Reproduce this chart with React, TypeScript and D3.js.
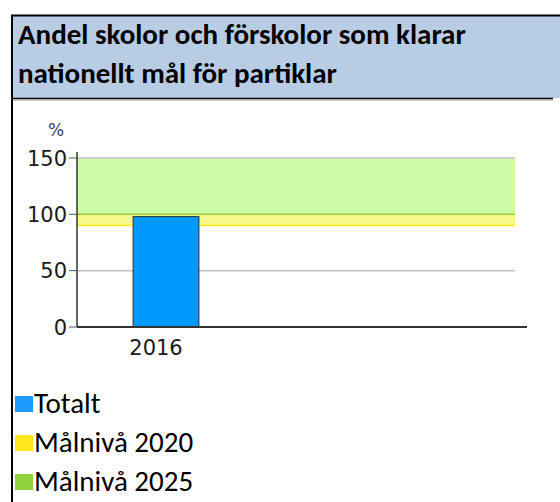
import React from 'react';
import * as d3 from 'd3';

const titleLines = ['Andel skolor och förskolor som klarar', 'nationellt mål för partiklar'];
const categories = ['2016'];
const totalt = [98];
const yTicks = [0, 50, 100, 150];
const target2020 = 90; // Målnivå 2020 (lower edge of yellow band)
const target2025 = 100; // Målnivå 2025 (lower edge of green band)
const yMax = 150;
const legendLabels = ['Totalt', 'Målnivå 2020', 'Målnivå 2025'];
const legendColors = ['#1e9bff', '#ffe81e', '#8fd13f'];

const width = 560;
const height = 502;
const plot = { left: 77, right: 515, axisRight: 527, top: 158, bottom: 327 };

const App = () => {
  const y = d3.scaleLinear().domain([0, yMax]).range([plot.bottom, plot.top]);
  const x = d3
    .scaleBand()
    .domain(categories)
    .range([plot.left, plot.left + 178])
    .paddingInner(0.46)
    .paddingOuter(0.46);

  const tickFont = '"DejaVu Sans", Verdana, sans-serif';
  const textFont = 'Carlito, Calibri, "Open Sans", sans-serif';

  return (
    <svg width={width} height={height} style={{ position: 'absolute', left: 0, top: 0 }}>
      {/* title box */}
      <rect x={13} y={16} width={width - 13} height={82} fill="#b8cce4" />
      <line x1={11} x2={width} y1={15.5} y2={15.5} stroke="#000" strokeWidth={2} />
      <line x1={11} x2={553} y1={98.5} y2={98.5} stroke="#000" strokeWidth={1.5} />
      <line x1={13} x2={553} y1={100} y2={100} stroke="#999" strokeWidth={1} />
      <line x1={12} x2={12} y1={15} y2={height} stroke="#000" strokeWidth={2} />
      {titleLines.map((t, i) => (
        <text
          key={t}
          x={18}
          y={44 + i * 39}
          fontFamily={textFont}
          fontWeight="bold"
          fontSize={29}
          fill="#000"
        >
          {t}
        </text>
      ))}

      {/* target bands */}
      <rect
        x={plot.left}
        y={y(yMax)}
        width={plot.right - plot.left}
        height={y(target2025) - y(yMax)}
        fill="#d0fca8"
      />
      <rect
        x={plot.left}
        y={y(target2025)}
        width={plot.right - plot.left}
        height={y(target2020) - y(target2025)}
        fill="#f8f88a"
      />
      {/* gridlines */}
      {yTicks
        .filter((t) => t > 0 && t !== target2025)
        .map((t) => (
          <line key={t} x1={plot.left} x2={plot.right} y1={y(t)} y2={y(t)} stroke="#c0c0c0" strokeWidth={1.5} />
        ))}
      <line x1={plot.left} x2={plot.right} y1={y(target2020)} y2={y(target2020)} stroke="#ffe81a" strokeWidth={1.5} />
      <line x1={plot.left} x2={plot.right} y1={y(target2025)} y2={y(target2025)} stroke="#99cc44" strokeWidth={1.5} />

      {/* bars */}
      {categories.map((c, i) => (
        <rect
          key={c}
          x={x(c)}
          y={y(totalt[i])}
          width={x.bandwidth()}
          height={y(0) - y(totalt[i])}
          fill="#0099ff"
          stroke="#333"
          strokeWidth={1}
        />
      ))}

      {/* axes */}
      <line x1={plot.left} x2={plot.left} y1={plot.top - 6} y2={plot.bottom} stroke="#333" strokeWidth={1.5} />
      <line x1={plot.left} x2={plot.axisRight} y1={plot.bottom} y2={plot.bottom} stroke="#333" strokeWidth={2} />
      {yTicks.map((t) => (
        <g key={t}>
          <line x1={plot.left - 8} x2={plot.left} y1={y(t)} y2={y(t)} stroke="#555" strokeWidth={1} />
          <text
            x={plot.left - 10}
            y={y(t)}
            dy="0.36em"
            textAnchor="end"
            fontFamily={tickFont}
            fontSize={21}
            fill="#1a1a1a"
          >
            {t}
          </text>
        </g>
      ))}
      {categories.map((c) => (
        <text
          key={c}
          x={(x(c) ?? 0) + x.bandwidth() / 2}
          dx={-10}
          y={plot.bottom + 28}
          textAnchor="middle"
          fontFamily={tickFont}
          fontSize={21}
          fill="#1a1a1a"
        >
          {c}
        </text>
      ))}
      <text x={56} y={136} textAnchor="middle" fontFamily={tickFont} fontSize={17} fill="#3c4460">
        %
      </text>

      {/* legend */}
      {legendLabels.map((l, i) => (
        <g key={l} transform={`translate(15, ${396 + i * 39})`}>
          <rect x={0} y={0} width={18} height={16} fill={legendColors[i]} />
          <text x={19} y={17} fontFamily={textFont} fontSize={29} fill="#000">
            {l}
          </text>
        </g>
      ))}
    </svg>
  );
};

export default App;
